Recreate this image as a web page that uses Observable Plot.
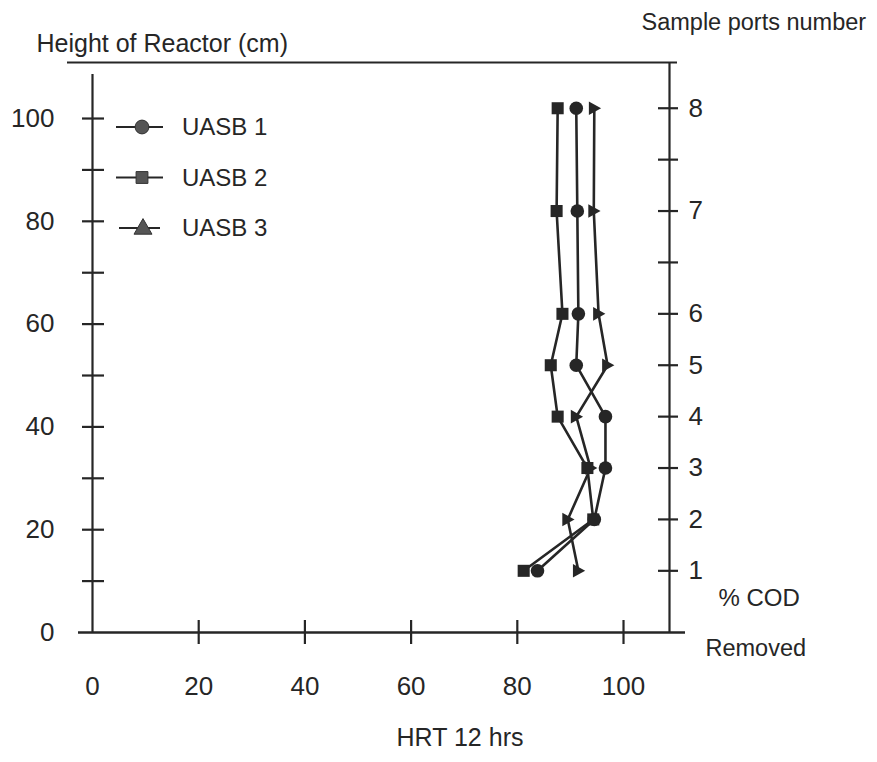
<!DOCTYPE html>
<html>
<head>
<meta charset="utf-8">
<script src="https://cdn.jsdelivr.net/npm/d3@7"></script>
<script src="https://cdn.jsdelivr.net/npm/@observablehq/plot@0.6"></script>
<style>
  html, body { margin: 0; padding: 0; background: #fff; }
  #chart svg { display: block; }
</style>
</head>
<body>
<div id="chart"></div>
<script>
// Sample ports along the reactor and their heights (cm)
const ports = [1, 2, 3, 4, 5, 6, 7, 8];
const portHeights = [12, 22, 32, 42, 52, 62, 82, 102];
// Intermediate (unlabelled) port ticks
const extraPortTicks = [72, 92];

// % COD removed at each port (HRT 12 hrs)
const uasb1 = [83.8, 94.5, 96.6, 96.6, 91.1, 91.5, 91.3, 91.1];
const uasb2 = [81.2, 94.3, 93.2, 87.6, 86.3, 88.5, 87.4, 87.6];
const uasb3 = [91.5, 89.5, 93.8, 91.1, 97.0, 95.3, 94.4, 94.5];

const seriesNames = ["UASB 1", "UASB 2", "UASB 3"];
const seriesValues = [uasb1, uasb2, uasb3];

// Axis ticks
const heightTicks = [10, 20, 30, 40, 50, 60, 70, 80, 90, 100];
const heightLabels = [0, 20, 40, 60, 80, 100];
const codTicks = [20, 40, 60, 80, 100];
const codLabels = [0, 20, 40, 60, 80, 100];

const xMax = 108.66;
const yMax = 110.9;

const ink = "#262626";
const font = "'Liberation Sans', Arial, Helvetica, sans-serif";

// Right-pointing triangle symbol
const triangleRight = {
  draw(context, size) {
    const r = Math.sqrt(size / Math.PI);
    context.moveTo(r * 1.0, 0);
    context.lineTo(-r * 0.8, -r);
    context.lineTo(-r * 0.8, r);
    context.closePath();
  }
};
const plotSymbols = ["circle", "square", triangleRight];
const legendSymbols = [d3.symbolCircle, d3.symbolSquare, d3.symbolTriangle];

const rows = [];
seriesNames.forEach((name, s) => {
  seriesValues[s].forEach((v, i) => {
    rows.push({series: name, port: ports[i], height: portHeights[i], cod: v});
  });
});

const allPortTicks = [...portHeights, ...extraPortTicks];

const chart = Plot.plot({
  width: 877,
  height: 762,
  marginLeft: 92,
  marginRight: 208,
  marginTop: 62,
  marginBottom: 130,
  style: {fontFamily: font, color: ink, background: "#fff"},
  x: {domain: [0, xMax], axis: null},
  y: {domain: [0, yMax], axis: null},
  marks: [
    // frame lines
    Plot.ruleY([0], {x1: 0, x2: xMax, insetLeft: -14, insetRight: -16, stroke: ink, strokeWidth: 2.4}),
    Plot.ruleY([yMax], {x1: 0, x2: xMax, insetLeft: -25, insetRight: -8, stroke: ink, strokeWidth: 2.2}),
    Plot.ruleX([0], {y1: 0, y2: yMax, insetBottom: -12, stroke: ink, strokeWidth: 2.2}),
    Plot.ruleX([xMax], {y1: 0, y2: yMax, stroke: ink, strokeWidth: 2.2}),
    // left ticks
    Plot.ruleY(heightTicks, {y: d => d, x1: 0, x2: 0, insetLeft: -10, insetRight: -12, stroke: ink, strokeWidth: 2.2}),
    // bottom ticks
    Plot.ruleX(codTicks, {x: d => d, y1: 0, y2: 0, insetTop: -12, insetBottom: -12, stroke: ink, strokeWidth: 2.2}),
    // right ticks
    Plot.ruleY(allPortTicks, {y: d => d, x1: xMax, x2: xMax, insetLeft: -11, insetRight: -9, stroke: ink, strokeWidth: 2.2}),
    // tick labels
    Plot.text(heightLabels, {x: 0, y: d => d, text: d => String(d), dx: -38, textAnchor: "end", fontSize: 26, fill: ink}),
    Plot.text(codLabels, {x: d => d, y: 0, text: d => String(d), dy: 54, fontSize: 26, fill: ink}),
    Plot.text(ports, {x: xMax, y: (d, i) => portHeights[i], text: d => String(d), dx: 19, textAnchor: "start", fontSize: 26, fill: ink}),
    // axis titles
    Plot.text(["Height of Reactor (cm)"], {frameAnchor: "top-left", dx: -56, dy: -28, textAnchor: "start", fontSize: 25, fill: ink}),
    Plot.text(["Sample ports number"], {frameAnchor: "top-right", dx: -28, dy: -49, textAnchor: "start", fontSize: 23.5, fill: ink}),
    Plot.text(["% COD"], {frameAnchor: "bottom-right", dx: 49, dy: -27, textAnchor: "start", fontSize: 24, fill: ink}),
    Plot.text(["Removed"], {frameAnchor: "bottom-right", dx: 36, dy: 23, textAnchor: "start", fontSize: 23.5, fill: ink}),
    Plot.text(["HRT 12 hrs"], {frameAnchor: "bottom", dx: 79, dy: 113, fontSize: 25, fill: ink}),
    // profiles
    Plot.line(rows, {x: "cod", y: "height", z: "series", sort: "height", stroke: ink, strokeWidth: 2.6}),
    ...seriesNames.map((name, s) =>
      Plot.dot(rows.filter(d => d.series === name), {
        x: "cod", y: "height", r: 6.8, symbol: plotSymbols[s], fill: ink, stroke: "none"
      })
    )
  ]
});

document.getElementById("chart").append(chart);

// Legend in the upper-left of the plot area
const svg = d3.select(chart);
const legend = svg.append("g").attr("transform", "translate(116,127)");
seriesNames.forEach((name, i) => {
  const row = legend.append("g").attr("transform", `translate(0,${i * 50.5})`);
  const inset = i === 2 ? 3 : 0;
  row.append("line")
    .attr("x1", inset).attr("x2", 47 - inset)
    .attr("y1", 0).attr("y2", 0)
    .attr("stroke", ink).attr("stroke-width", 2);
  row.append("path")
    .attr("transform", `translate(${i === 2 ? 27 : 26},${i === 2 ? 1 : 0})`)
    .attr("d", d3.symbol(legendSymbols[i], i === 0 ? 150 : 140)())
    .attr("fill", "#555").attr("stroke", "#333").attr("stroke-width", 1);
  row.append("text")
    .attr("x", 66).attr("y", 0)
    .attr("dy", "0.35em")
    .attr("text-anchor", "start")
    .attr("font-family", font)
    .attr("font-size", 24)
    .attr("fill", ink)
    .text(name);
});
</script>
</body>
</html>
